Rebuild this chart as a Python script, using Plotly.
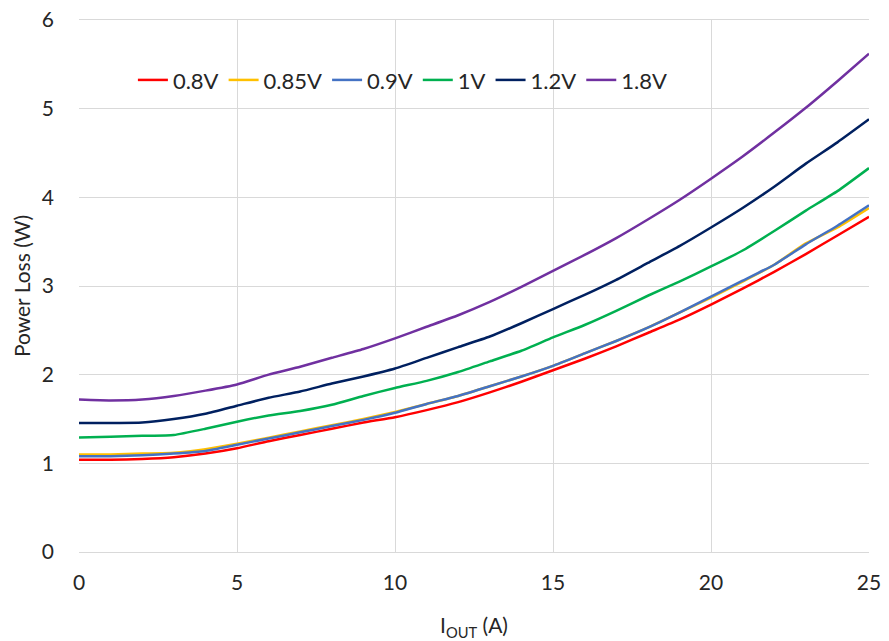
import plotly.graph_objects as go

iout = list(range(0, 26))

v080 = [1.04, 1.04, 1.05, 1.07, 1.11, 1.17, 1.25, 1.32, 1.39, 1.46, 1.52, 1.60, 1.69, 1.80, 1.92,
        2.05, 2.18, 2.32, 2.47, 2.62, 2.79, 2.97, 3.16, 3.36, 3.57, 3.78]
v085 = [1.10, 1.10, 1.11, 1.12, 1.16, 1.22, 1.29, 1.36, 1.43, 1.50, 1.58, 1.67, 1.76, 1.87, 1.98,
        2.10, 2.24, 2.38, 2.53, 2.70, 2.87, 3.05, 3.24, 3.48, 3.66, 3.88]
v090 = [1.08, 1.08, 1.09, 1.11, 1.14, 1.21, 1.28, 1.35, 1.42, 1.49, 1.57, 1.67, 1.76, 1.87, 1.98,
        2.10, 2.24, 2.38, 2.53, 2.70, 2.88, 3.06, 3.24, 3.47, 3.68, 3.91]
v100 = [1.29, 1.30, 1.31, 1.32, 1.39, 1.47, 1.54, 1.59, 1.66, 1.76, 1.85, 1.93, 2.03, 2.15, 2.27,
        2.42, 2.56, 2.72, 2.89, 3.05, 3.22, 3.40, 3.62, 3.85, 4.07, 4.33]
v120 = [1.455, 1.455, 1.46, 1.50, 1.56, 1.65, 1.74, 1.81, 1.90, 1.98, 2.07, 2.19, 2.31, 2.43, 2.58,
        2.74, 2.90, 3.07, 3.26, 3.45, 3.66, 3.88, 4.12, 4.38, 4.62, 4.88]
v180 = [1.72, 1.71, 1.72, 1.76, 1.82, 1.89, 2.00, 2.09, 2.19, 2.29, 2.41, 2.54, 2.67, 2.82, 2.99,
        3.17, 3.35, 3.54, 3.75, 3.97, 4.21, 4.46, 4.73, 5.01, 5.31, 5.62]

names = ["0.8V", "0.85V", "0.9V", "1V", "1.2V", "1.8V"]
series = [v080, v085, v090, v100, v120, v180]
colors = ["#FF0000", "#FFC000", "#4472C4", "#00B050", "#002060", "#7030A0"]

x_ticks = [0, 5, 10, 15, 20, 25]
y_ticks = [0, 1, 2, 3, 4, 5, 6]

fig = go.Figure()
for name, ys, c in zip(names, series, colors):
    fig.add_trace(go.Scatter(x=iout, y=ys, name=name, mode="lines",
                             line=dict(color=c, width=2.5, shape="spline", smoothing=0.5)))

font_family = "Lato, 'Open Sans', sans-serif"
fig.update_layout(
    width=889, height=641,
    margin=dict(l=79, r=20, t=20, b=89, autoexpand=False),
    paper_bgcolor="white", plot_bgcolor="white",
    font=dict(family=font_family, size=21, color="#262626"),
    showlegend=True,
    legend=dict(orientation="h", x=0.41, y=0.887, xanchor="center", yanchor="middle",
                bgcolor="rgba(0,0,0,0)", font=dict(size=22, color="#262626"),
                itemwidth=30, tracegroupgap=0),
    xaxis=dict(range=[0, 25], tickvals=x_ticks, showgrid=True, gridcolor="#D9D9D9", gridwidth=1,
               zeroline=False, showline=True, mirror=True, linecolor="#D9D9D9", linewidth=1,
               ticks="", tickfont=dict(size=21),
               automargin=False, ticklabelstandoff=12, ticklabeloverflow="allow",
               title=dict(text="I<sub>OUT</sub> (A)", font=dict(size=21), standoff=25)),
    yaxis=dict(range=[0, 6], tickvals=y_ticks, showgrid=True, gridcolor="#D9D9D9", gridwidth=1,
               zeroline=False, showline=False, ticks="", tickfont=dict(size=21),
               automargin=False, ticklabelstandoff=24, ticklabeloverflow="allow",
               title=dict(text="Power Loss (W)", font=dict(size=21), standoff=5)),
)

fig.write_html("out.html", config={"displayModeBar": False},
               post_script="document.body.style.margin='0';document.body.style.overflow='hidden';")
